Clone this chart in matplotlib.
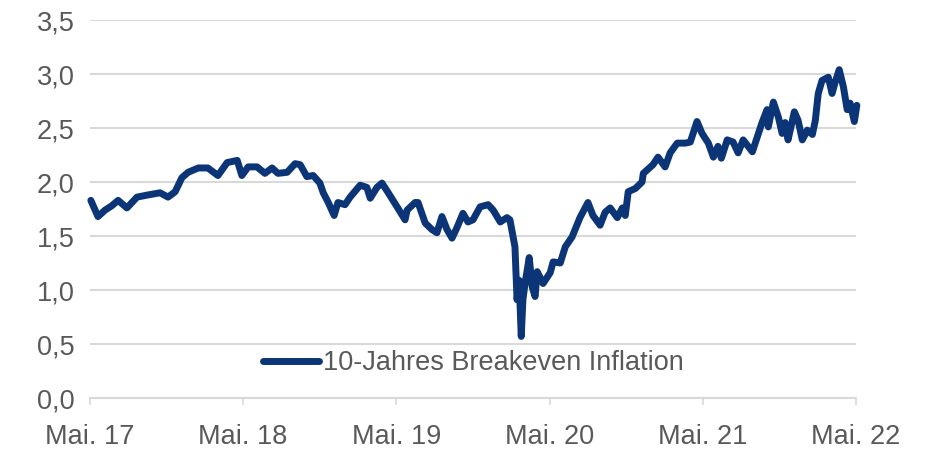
import matplotlib
matplotlib.use("Agg")
import matplotlib.pyplot as plt
import pandas as pd
from matplotlib import font_manager

dates = [
    "2017-05-03", "2017-05-20", "2017-06-06", "2017-06-22", "2017-07-07", "2017-07-28",
    "2017-08-21", "2017-09-16", "2017-10-15", "2017-11-03", "2017-11-20", "2017-12-06",
    "2017-12-21", "2018-01-14", "2018-02-06", "2018-03-02", "2018-03-24", "2018-04-17",
    "2018-04-28", "2018-05-13", "2018-06-03", "2018-06-22", "2018-07-09", "2018-07-23",
    "2018-08-14", "2018-09-02", "2018-09-14", "2018-09-30", "2018-10-15", "2018-10-31",
    "2018-11-08", "2018-11-20", "2018-12-04", "2018-12-13", "2018-12-30", "2019-01-11",
    "2019-02-04", "2019-02-20", "2019-02-28", "2019-03-16", "2019-03-28", "2019-04-12",
    "2019-05-03", "2019-05-22", "2019-05-27", "2019-06-15", "2019-06-22", "2019-07-09",
    "2019-07-25", "2019-08-06", "2019-08-18", "2019-08-30", "2019-09-11", "2019-09-23",
    "2019-10-07", "2019-10-19", "2019-10-31", "2019-11-17", "2019-12-06", "2019-12-18",
    "2020-01-04", "2020-01-20", "2020-01-27", "2020-02-04", "2020-02-08", "2020-02-13",
    "2020-02-18", "2020-02-23", "2020-02-27", "2020-03-03", "2020-03-13", "2020-03-20",
    "2020-03-27", "2020-04-01", "2020-04-15", "2020-05-02", "2020-05-09", "2020-05-26",
    "2020-06-07", "2020-06-23", "2020-07-12", "2020-07-31", "2020-08-12", "2020-08-29",
    "2020-09-10", "2020-09-22", "2020-10-09", "2020-10-21", "2020-10-28", "2020-11-04",
    "2020-11-21", "2020-12-07", "2020-12-10", "2021-01-02", "2021-01-14", "2021-01-31",
    "2021-02-12", "2021-03-01", "2021-03-20", "2021-04-01", "2021-04-17", "2021-04-29",
    "2021-05-14", "2021-05-26", "2021-06-06", "2021-06-14", "2021-06-28", "2021-07-12",
    "2021-07-24", "2021-08-05", "2021-08-27", "2021-09-07", "2021-09-19", "2021-10-01",
    "2021-10-04", "2021-10-16", "2021-10-28", "2021-11-06", "2021-11-13", "2021-11-20",
    "2021-12-05", "2021-12-14", "2021-12-24", "2022-01-05", "2022-01-17", "2022-01-24",
    "2022-01-31", "2022-02-09", "2022-02-24", "2022-03-05", "2022-03-12", "2022-03-22",
    "2022-04-01", "2022-04-10", "2022-04-17", "2022-04-27", "2022-05-03",
]
breakeven = [
    1.83, 1.68, 1.74, 1.78, 1.83, 1.76,
    1.86, 1.88, 1.90, 1.86, 1.91, 2.04,
    2.09, 2.13, 2.13, 2.06, 2.18, 2.20,
    2.06, 2.14, 2.14, 2.08, 2.13, 2.08,
    2.09, 2.17, 2.16, 2.05, 2.06, 1.99,
    1.90, 1.81, 1.69, 1.81, 1.79, 1.86,
    1.97, 1.95, 1.85, 1.95, 1.99, 1.90,
    1.77, 1.65, 1.74, 1.81, 1.81, 1.62,
    1.56, 1.53, 1.68, 1.56, 1.48, 1.58,
    1.71, 1.63, 1.65, 1.77, 1.79, 1.74,
    1.63, 1.67, 1.65, 1.48, 1.40, 0.91,
    1.09, 0.57, 0.91, 1.06, 1.30, 1.03,
    0.94, 1.17, 1.06, 1.16, 1.26, 1.25,
    1.40, 1.49, 1.67, 1.81, 1.69, 1.60,
    1.72, 1.76, 1.67, 1.76, 1.69, 1.91,
    1.94, 2.00, 2.08, 2.16, 2.23, 2.14,
    2.27, 2.36, 2.36, 2.37, 2.56, 2.45,
    2.36, 2.23, 2.33, 2.22, 2.39, 2.37,
    2.27, 2.39, 2.28, 2.41, 2.55, 2.67,
    2.51, 2.74, 2.60, 2.45, 2.55, 2.39,
    2.65, 2.57, 2.39, 2.48, 2.44, 2.57,
    2.82, 2.94, 2.97, 2.82, 2.92, 3.04,
    2.88, 2.67, 2.73, 2.56, 2.71,
]
series_label = "10-Jahres Breakeven Inflation"
tick_dates = ["2017-05-01", "2018-05-01", "2019-05-01", "2020-05-01", "2021-05-01", "2022-05-01"]
tick_labels = ["Mai. 17", "Mai. 18", "Mai. 19", "Mai. 20", "Mai. 21", "Mai. 22"]
y_ticks = [0.0, 0.5, 1.0, 1.5, 2.0, 2.5, 3.0, 3.5]
y_labels = ["0,0", "0,5", "1,0", "1,5", "2,0", "2,5", "3,0", "3,5"]

avail = {f.name for f in font_manager.fontManager.ttflist}
fam = [f for f in ["Liberation Sans Narrow", "Liberation Sans", "DejaVu Sans"] if f in avail]
plt.rcParams["font.family"] = fam

LINE = "#0b3577"
GRID = "#d9d9d9"
TXT = "#595959"
FS = 19.5

fig = plt.figure(figsize=(9.26, 4.5), dpi=100)
ax = fig.add_axes([90 / 926, 1 - 398 / 450, (856 - 90) / 926, (398 - 20) / 450])

x = pd.to_datetime(dates)
ax.plot(x, breakeven, color=LINE, lw=5.0, solid_joinstyle="round",
        solid_capstyle="round", label=series_label, clip_on=False, zorder=3)

ax.set_ylim(0, 3.5)
ax.set_xlim(pd.Timestamp(tick_dates[0]), pd.Timestamp(tick_dates[-1]))
ax.set_yticks(y_ticks)
ax.set_yticklabels(y_labels)
ax.set_xticks(pd.to_datetime(tick_dates))
ax.set_xticklabels(tick_labels)

ax.grid(axis="y", color=GRID, lw=1.5)
ax.set_axisbelow(True)
for s in ["top", "right", "left"]:
    ax.spines[s].set_visible(False)
ax.spines["bottom"].set_color(GRID)
ax.spines["bottom"].set_linewidth(1.5)
ax.tick_params(axis="y", length=0, pad=11, labelsize=FS, labelcolor=TXT)
ax.tick_params(axis="x", length=5, width=1.2, color=GRID, pad=14, labelsize=FS, labelcolor=TXT)

leg = ax.legend(loc="center", bbox_to_anchor=(0.50, 0.0926), frameon=False,
                fontsize=FS, handlelength=2.07, handletextpad=0.15, borderpad=0)
for t in leg.get_texts():
    t.set_color(TXT)

fig.savefig("out.png", dpi=100)
